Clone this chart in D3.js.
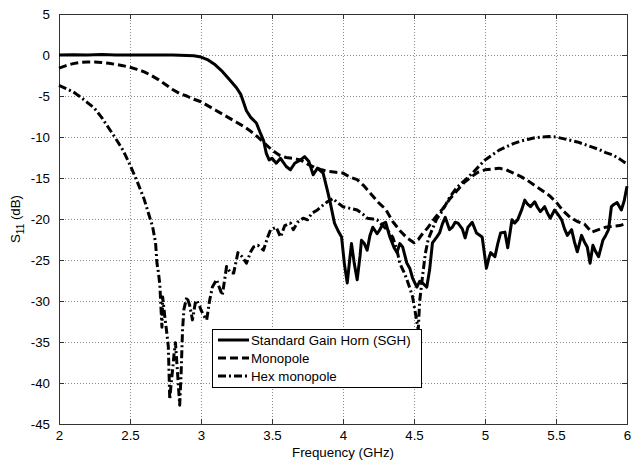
<!DOCTYPE html>
<html>
<head>
<meta charset="utf-8">
<script src="https://cdn.jsdelivr.net/npm/d3@7"></script>
<style>
  body { margin: 0; background: #fff; }
  text { font-family: "Liberation Sans", Arial, sans-serif; }
</style>
</head>
<body>
<div id="chart"></div>
<script>
// tick values / labels
const xTicks = [2, 2.5, 3, 3.5, 4, 4.5, 5, 5.5, 6];
const xTickLabels = ['2', '2.5', '3', '3.5', '4', '4.5', '5', '5.5', '6'];
const yTicks = [5, 0, -5, -10, -15, -20, -25, -30, -35, -40, -45];
const yTickLabels = ['5', '0', '-5', '-10', '-15', '-20', '-25', '-30', '-35', '-40', '-45'];

const seriesNames = ['Standard Gain Horn (SGH)', 'Monopole', 'Hex monopole'];

// Standard Gain Horn (SGH)
const sghFreq = [2.0, 2.1, 2.2, 2.3, 2.4, 2.5, 2.6, 2.7, 2.8, 2.9, 2.95, 3.0, 3.05, 3.1, 3.15, 3.2, 3.25, 3.28, 3.32, 3.35, 3.39, 3.42, 3.44, 3.46, 3.48,
  3.5, 3.53, 3.56, 3.6, 3.63, 3.66, 3.7, 3.73, 3.76, 3.79, 3.82, 3.86, 3.89, 3.91, 3.94, 3.97, 3.99, 4.01, 4.03, 4.05, 4.06, 4.08,
  4.10, 4.12, 4.13, 4.15, 4.17, 4.19, 4.21, 4.24, 4.26, 4.28, 4.30, 4.33, 4.36, 4.38, 4.40, 4.42, 4.45, 4.47, 4.49, 4.52, 4.54,
  4.56, 4.59, 4.61, 4.63, 4.66, 4.68, 4.70, 4.72, 4.74, 4.75, 4.77, 4.79, 4.81, 4.84, 4.86, 4.88, 4.91, 4.94, 4.98, 5.01, 5.03,
  5.04, 5.07, 5.09, 5.11, 5.14, 5.16, 5.19, 5.21, 5.23, 5.26, 5.28, 5.30, 5.32, 5.35, 5.37, 5.39, 5.42, 5.44, 5.46, 5.49, 5.52,
  5.54, 5.56, 5.58, 5.61, 5.63, 5.65, 5.68, 5.70, 5.72, 5.74, 5.76, 5.78, 5.80, 5.83, 5.85, 5.87, 5.89, 5.91, 5.93, 5.96, 5.98, 6.0];
const sghS11 = [0, 0.02, 0, 0.05, 0, 0, 0, 0, 0, -0.05, -0.1, -0.25, -0.6, -1.2, -2.0, -3.0, -4.0, -4.8, -6.8, -7.6, -8.3, -9.6, -10.4, -12.0, -12.8,
  -12.6, -13.2, -12.6, -13.6, -14.0, -13.2, -12.8, -12.4, -13.0, -14.6, -13.8, -14.4, -16.5, -18.0, -20.5, -21.6, -22.2, -25.5, -27.8, -24.5, -23.0, -25.5,
  -27.4, -24.5, -22.6, -23.0, -23.8, -22.0, -21.0, -21.8, -21.3, -20.6, -20.4, -22.2, -23.5, -24.1, -23.0, -23.4, -25.4, -26.0, -27.2, -28.3, -27.6,
  -27.8, -28.3, -26.2, -22.9, -22.2, -21.7, -20.6, -19.8, -20.8, -21.3, -21.0, -20.4, -20.5, -21.2, -22.3, -21.0, -20.4, -21.7, -22.2, -26.0, -24.6,
  -24.1, -24.6, -23.0, -21.7, -21.6, -23.5, -20.1, -20.5, -20.1, -18.8, -17.7, -18.2, -18.5, -17.9, -18.6, -19.1, -18.5, -19.3, -19.9, -18.9, -19.6,
  -20.1, -21.2, -22.0, -21.3, -22.8, -24.0, -22.0, -22.8, -23.4, -25.4, -23.2, -24.0, -24.6, -22.6, -22.0, -21.3, -18.5, -18.2, -18.0, -18.9, -17.8, -16.0];

// Monopole
const monoFreq = [2.0, 2.05, 2.1, 2.15, 2.2, 2.25, 2.3, 2.35, 2.4, 2.45, 2.5, 2.55, 2.6, 2.65, 2.7, 2.75, 2.8, 2.85, 2.9, 2.95, 3.0,
  3.05, 3.1, 3.15, 3.2, 3.25, 3.3, 3.35, 3.4, 3.45, 3.5, 3.55, 3.6, 3.65, 3.7, 3.75, 3.8, 3.85, 3.9, 3.95, 4.0, 4.05, 4.1, 4.15,
  4.2, 4.25, 4.3, 4.35, 4.4, 4.45, 4.5, 4.53, 4.56, 4.6, 4.65, 4.7, 4.75, 4.8, 4.85, 4.9, 4.95, 5.0, 5.05, 5.1, 5.15, 5.2, 5.25,
  5.3, 5.35, 5.4, 5.45, 5.5, 5.55, 5.6, 5.65, 5.7, 5.75, 5.8, 5.85, 5.9, 5.95, 6.0];
const monoS11 = [-1.6, -1.3, -1.05, -0.9, -0.85, -0.85, -0.9, -1.0, -1.15, -1.3, -1.5, -1.75, -2.05, -2.5, -3.0, -3.6, -4.2, -4.7, -5.0, -5.4, -5.7,
  -6.2, -6.7, -7.2, -7.7, -8.2, -8.7, -9.3, -10.0, -10.8, -11.6, -12.2, -12.5, -12.6, -12.8, -13.3, -13.7, -14.0, -14.2, -14.3, -14.4, -14.9, -15.2, -16.0,
  -17.0, -18.0, -18.8, -20.3, -21.4, -22.3, -22.9, -22.5, -21.8, -21.0, -19.8, -18.8, -17.6, -16.6, -15.6, -14.9, -14.3, -14.0, -13.9, -13.8, -14.0, -14.4, -14.8,
  -15.3, -15.9, -16.5, -17.1, -17.9, -19.0, -19.8, -20.3, -20.6, -21.6, -21.3, -21.0, -20.9, -20.8, -20.5];

// Hex monopole
const hexFreq = [2.0, 2.05, 2.1, 2.15, 2.2, 2.25, 2.3, 2.35, 2.4, 2.45, 2.5, 2.55, 2.6, 2.63, 2.66, 2.68, 2.69, 2.70, 2.71, 2.72, 2.725,
  2.73, 2.745, 2.76, 2.77, 2.78, 2.79, 2.80, 2.81, 2.82, 2.835, 2.85, 2.86, 2.87, 2.88, 2.90, 2.92, 2.94, 2.96, 2.97, 2.99, 3.0,
  3.02, 3.04, 3.06, 3.08, 3.11, 3.13, 3.15, 3.17, 3.18, 3.21, 3.23, 3.26, 3.29, 3.32, 3.35, 3.37, 3.40, 3.44, 3.47, 3.49, 3.53,
  3.56, 3.59, 3.63, 3.65, 3.68, 3.72, 3.75, 3.78, 3.82, 3.86, 3.89, 3.93, 3.96, 4.0, 4.05, 4.10, 4.14, 4.17, 4.21, 4.24, 4.28,
  4.31, 4.35, 4.38, 4.40, 4.43, 4.45, 4.47, 4.49, 4.51, 4.52, 4.53, 4.54, 4.56, 4.58, 4.60, 4.63, 4.66, 4.70, 4.75, 4.80, 4.85,
  4.90, 4.95, 5.0, 5.05, 5.1, 5.15, 5.2, 5.25, 5.3, 5.35, 5.4, 5.45, 5.5, 5.55, 5.6, 5.65, 5.7, 5.75, 5.8, 5.85, 5.9, 5.95, 6.0];
const hexS11 = [-3.7, -4.1, -4.5, -5.1, -5.8, -6.5, -7.6, -8.9, -10.2, -11.6, -13.4, -15.4, -17.6, -19.3, -21.0, -22.9, -25.4, -26.5, -28.0, -31.5, -33.2,
  -29.5, -31.9, -34.0, -35.6, -42.0, -40.0, -38.4, -36.5, -35.1, -38.8, -42.7, -38.8, -33.5, -31.0, -29.5, -30.5, -32.3, -30.2, -29.9, -30.6, -31.1,
  -31.8, -32.3, -30.0, -28.3, -27.4, -28.4, -29.3, -27.0, -25.8, -26.6, -26.6, -24.1, -24.6, -25.4, -24.0, -23.4, -23.2, -23.8, -22.2, -21.3, -21.0,
  -22.2, -20.8, -20.5, -21.3, -20.4, -19.9, -20.1, -19.3, -18.9, -18.3, -17.9, -17.5, -18.0, -18.5, -18.7, -18.9, -19.4, -19.9, -20.0, -20.1, -20.8,
  -21.3, -22.2, -23.8, -25.4, -26.5, -27.4, -28.4, -29.5, -31.5, -32.5, -33.5, -30.0, -27.0, -24.2, -22.5, -21.2, -20.0, -19.0, -17.4, -16.2, -15.4,
  -14.6, -13.7, -12.8, -12.2, -11.6, -11.2, -10.8, -10.5, -10.3, -10.1, -10.0, -9.95, -10.0, -10.2, -10.4, -10.6, -10.9, -11.2, -11.5, -11.9, -12.2, -12.7, -13.3];

const W = 631, H = 461;
const margin = { top: 14, right: 4, bottom: 37, left: 59 };
const width = W - margin.left - margin.right;
const height = H - margin.top - margin.bottom;
const fontSize = '13.3px';

const svg = d3.select('#chart').append('svg')
  .attr('width', W)
  .attr('height', H);

const g = svg.append('g')
  .attr('transform', `translate(${margin.left},${margin.top})`);

const x = d3.scaleLinear().domain([2, 6]).range([0, width]);
const y = d3.scaleLinear().domain([-45, 5]).range([height, 0]);

// dotted grid
const grid = g.append('g').attr('class', 'grid');
grid.selectAll('line.gx')
  .data(xTicks.slice(1, -1))
  .enter().append('line')
  .attr('x1', d => x(d)).attr('x2', d => x(d))
  .attr('y1', 0).attr('y2', height);
grid.selectAll('line.gy')
  .data(yTicks.slice(1, -1))
  .enter().append('line')
  .attr('x1', 0).attr('x2', width)
  .attr('y1', d => y(d)).attr('y2', d => y(d));
grid.selectAll('line')
  .attr('stroke', '#8a8a8a')
  .attr('stroke-width', 1)
  .attr('stroke-dasharray', '1,2')
  .attr('shape-rendering', 'crispEdges');

// axes with inward ticks
g.append('g')
  .attr('transform', `translate(0,${height})`)
  .call(d3.axisBottom(x).tickValues(xTicks).tickSizeInner(-5).tickSizeOuter(0).tickPadding(7)
    .tickFormat((d, i) => xTickLabels[i]));
g.append('g')
  .call(d3.axisLeft(y).tickValues(yTicks).tickSizeInner(-5).tickSizeOuter(0).tickPadding(9)
    .tickFormat((d, i) => yTickLabels[i]));
g.append('g')
  .call(d3.axisTop(x).tickValues(xTicks).tickSizeInner(-5).tickSizeOuter(0).tickFormat(''));
g.append('g')
  .attr('transform', `translate(${width},0)`)
  .call(d3.axisRight(y).tickValues(yTicks).tickSizeInner(-5).tickSizeOuter(0).tickFormat(''));

g.selectAll('.domain').attr('stroke', '#333').attr('shape-rendering', 'crispEdges');
g.selectAll('.tick line').attr('stroke', '#333');
g.selectAll('.tick text')
  .attr('fill', '#000')
  .style('font-size', fontSize)
  .style('font-family', '"Liberation Sans", Arial, sans-serif');

// curves
const line = d3.line()
  .x(d => x(d[0]))
  .y(d => y(d[1]));

const series = [
  { name: seriesNames[0], pts: d3.zip(sghFreq, sghS11), dash: null },
  { name: seriesNames[1], pts: d3.zip(monoFreq, monoS11), dash: '8,4' },
  { name: seriesNames[2], pts: d3.zip(hexFreq, hexS11), dash: '8,3,2,3' }
];

g.selectAll('.curve')
  .data(series)
  .enter().append('path')
  .attr('class', 'curve')
  .attr('d', d => line(d.pts))
  .attr('fill', 'none')
  .attr('stroke', '#000')
  .attr('stroke-width', 3)
  .attr('stroke-linejoin', 'round')
  .attr('stroke-dasharray', d => d.dash);

// axis labels
svg.append('text')
  .attr('x', margin.left + width / 2)
  .attr('y', 457)
  .attr('text-anchor', 'middle')
  .style('font-size', fontSize)
  .text('Frequency (GHz)');

const yl = svg.append('text')
  .attr('transform', `translate(20,${margin.top + height / 2}) rotate(-90)`)
  .attr('text-anchor', 'middle')
  .style('font-size', fontSize);
yl.append('tspan').text('S');
yl.append('tspan').attr('dy', 4).style('font-size', '10px').text('11');
yl.append('tspan').attr('dy', -4).text(' (dB)');

// legend
const legend = svg.append('g')
  .attr('transform', 'translate(212,329)');

legend.append('rect')
  .attr('width', 209)
  .attr('height', 58)
  .attr('fill', '#fff')
  .attr('stroke', '#000')
  .attr('stroke-width', 1)
  .attr('shape-rendering', 'crispEdges');

const items = legend.selectAll('.legend-item')
  .data(series)
  .enter().append('g')
  .attr('class', 'legend-item')
  .attr('transform', (d, i) => `translate(0,${11 + i * 18})`);

items.append('line')
  .attr('x1', 6).attr('x2', 37)
  .attr('stroke', '#000')
  .attr('stroke-width', 3)
  .attr('stroke-dasharray', d => d.dash);

items.append('text')
  .attr('x', 39)
  .attr('y', 5)
  .style('font-size', fontSize)
  .text(d => d.name);
</script>
</body>
</html>
